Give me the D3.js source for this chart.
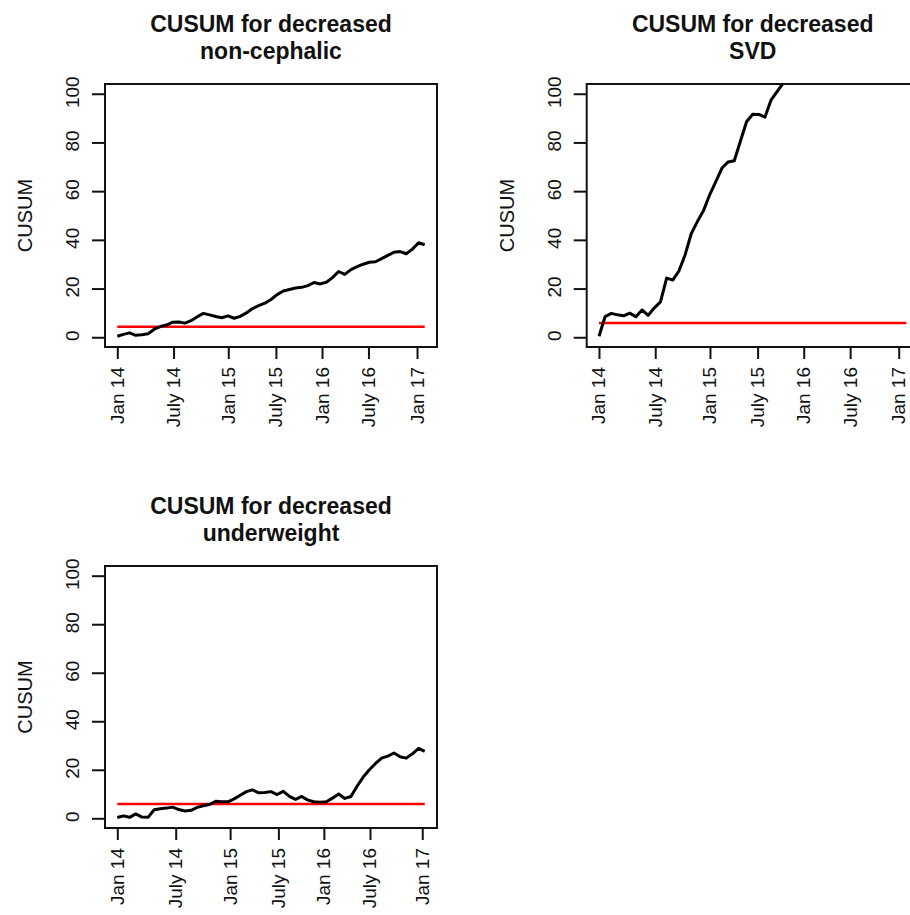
<!DOCTYPE html>
<html>
<head>
<meta charset="utf-8">
<script src="https://cdn.jsdelivr.net/npm/d3@7"></script>
<style>
  body { margin: 0; background: #fff; overflow: hidden; }
  text { font-family: "Liberation Sans", Arial, sans-serif; fill: #111; }
</style>
</head>
<body>
<svg id="chart" width="910" height="915"></svg>
<script>
// x is the observation index (0..1000), y is the CUSUM value
const tickLabels = ["Jan 14", "July 14", "Jan 15", "July 15", "Jan 16", "July 16", "Jan 17"];
const tickIdxTop = [0, 183, 361, 516, 666, 817, 975];
const tickIdxBottom = [0, 190, 367, 524, 672, 822, 992];
const yTicks = [0, 20, 40, 60, 80, 100];
const step = 20; // index spacing between stored values

const nonCephalic = [0.4, 1.2, 1.8, 0.8, 1.0, 1.4, 3.3, 4.4, 5.0, 6.2, 6.3, 5.8, 6.8, 8.4, 9.8, 9.2, 8.5, 8.0, 8.8, 7.8,
  8.6, 10.0, 11.8, 13.0, 14.0, 15.5, 17.5, 19.0, 19.6, 20.2, 20.5, 21.2, 22.5, 21.9, 22.6, 24.5, 27.0, 25.8, 27.8, 29.0,
  30.0, 30.8, 31.0, 32.3, 33.6, 34.9, 35.2, 34.3, 36.2, 38.8, 38.0];
const svd = [0.4, 8.5, 9.8, 9.2, 8.8, 9.9, 8.4, 11.2, 9.0, 12.1, 14.5, 24.3, 23.5, 27.2, 33.8, 42.5, 47.5, 52.0, 58.5, 63.9,
  69.5, 72.0, 72.5, 80.5, 88.5, 91.6, 91.5, 90.4, 97.5, 101.0, 104.5];
const underweight = [0.3, 1.0, 0.4, 1.8, 0.5, 0.4, 3.5, 3.9, 4.2, 4.6, 3.6, 3.0, 3.3, 4.5, 5.2, 5.7, 7.0, 6.8, 6.8, 8.0,
  9.5, 11.0, 11.7, 10.5, 10.6, 11.0, 9.8, 11.1, 9.0, 7.8, 9.0, 7.5, 6.8, 6.6, 6.8, 8.3, 10.0, 8.2, 9.0, 13.2,
  17.0, 20.0, 22.6, 24.8, 25.6, 26.9, 25.4, 24.8, 26.6, 28.8, 27.6];
const thresholds = [4.3, 5.9, 5.9];
const titles = [["CUSUM for decreased", "non-cephalic"], ["CUSUM for decreased", "SVD"], ["CUSUM for decreased", "underweight"]];

const panels = [
  { title: titles[0], values: nonCephalic, h: thresholds[0], ticks: tickIdxTop, left: 105, top: 84, w: 332, ht: 263 },
  { title: titles[1], values: svd, h: thresholds[1], ticks: tickIdxTop, left: 586.7, top: 84, w: 332, ht: 263 },
  { title: titles[2], values: underweight, h: thresholds[2], ticks: tickIdxBottom, left: 105, top: 566, w: 332, ht: 262 }
];

const svg = d3.select("#chart");

panels.forEach((p, pi) => {
  const g = svg.append("g").attr("transform", `translate(${p.left},${p.top})`);
  const x = d3.scaleLinear().domain([-40, 1040]).range([0, p.w]);
  const y = d3.scaleLinear().domain([-4, 104]).range([p.ht, 0]);

  g.append("clipPath").attr("id", "clip" + pi)
    .append("rect").attr("width", p.w).attr("height", p.ht);

  // threshold
  g.append("line")
    .attr("x1", x(0)).attr("x2", x(1000))
    .attr("y1", y(p.h)).attr("y2", y(p.h))
    .attr("stroke", "#ff0000").attr("stroke-width", 2.5);

  // cusum line
  const line = d3.line().x((d, i) => x(i * step)).y(d => y(d));
  g.append("path")
    .datum(p.values)
    .attr("clip-path", `url(#clip${pi})`)
    .attr("d", line)
    .attr("fill", "none")
    .attr("stroke", "#000")
    .attr("stroke-width", 3)
    .attr("stroke-linejoin", "round");

  // box
  g.append("rect").attr("width", p.w).attr("height", p.ht)
    .attr("fill", "none").attr("stroke", "#111").attr("stroke-width", 2);

  // y axis
  const ya = g.append("g").call(d3.axisLeft(y).tickValues(yTicks).tickSize(13).tickFormat(d3.format("d")));
  ya.select(".domain").remove();
  ya.selectAll(".tick line").attr("stroke", "#111").attr("stroke-width", 2);
  ya.selectAll(".tick text")
    .attr("x", null).attr("dy", null)
    .attr("text-anchor", "middle")
    .attr("transform", "translate(-26,-2) rotate(-90)")
    .style("font-size", "19px");

  // x axis
  const xa = g.append("g").attr("transform", `translate(0,${p.ht})`)
    .call(d3.axisBottom(x).tickValues(p.ticks).tickSize(12).tickFormat((d, i) => tickLabels[i]));
  xa.select(".domain").remove();
  xa.selectAll(".tick line").attr("stroke", "#111").attr("stroke-width", 2);
  xa.selectAll(".tick text")
    .attr("y", null).attr("dy", null)
    .attr("text-anchor", "end")
    .attr("transform", "translate(6,20) rotate(-90)")
    .style("font-size", "19px");

  // y label
  g.append("text")
    .attr("transform", `translate(-73,${p.ht / 2}) rotate(-90)`)
    .attr("text-anchor", "middle")
    .style("font-size", "20px")
    .text("CUSUM");

  // title
  p.title.forEach((t, i) => {
    g.append("text")
      .attr("x", p.w / 2).attr("y", -52 + i * 27)
      .attr("text-anchor", "middle")
      .style("font-size", "23px").style("font-weight", "bold")
      .text(t);
  });
});
</script>
</body>
</html>
